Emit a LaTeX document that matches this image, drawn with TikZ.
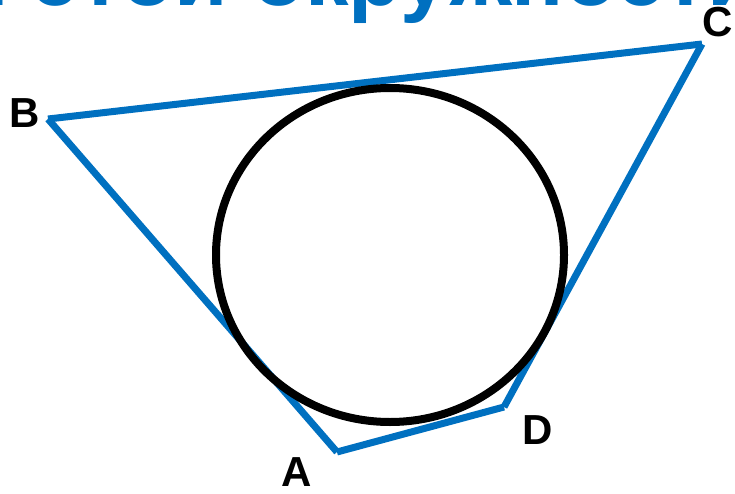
\documentclass[tikz,border=0pt]{standalone}
\usepackage{fontspec}
\setmainfont{Liberation Sans}
\usepackage{xcolor}
\usetikzlibrary{shapes.geometric, positioning}
\definecolor{lineblue}{HTML}{0070C0}

\begin{document}
\begin{tikzpicture}[
    x=1pt, y=-1pt,
    side/.style={draw=lineblue, line width=7pt},
    incircle/.style={draw=black, line width=8pt},
    vertex/.style={font=\fontsize{42}{42}\selectfont\bfseries, text=black, inner sep=0pt},
    heading/.style={font=\fontsize{87}{87}\selectfont\bfseries, text=lineblue, inner sep=0pt}
]
\useasboundingbox (0,0) rectangle (735,494);
\clip (0,0) rectangle (735,494);

% ── Heading (cut off at the top) ──
\node[heading, anchor=base west] (title) at (-45,6) {и этой окружности};

% ── Quadrilateral ──
\coordinate (B) at (48,119);
\coordinate (C) at (702,44);
\coordinate (D) at (504,407);
\coordinate (A) at (337,452);
\draw[side] (B) -- (C);
\draw[side] (C) -- (D);
\draw[side] (D) -- (A);
\draw[side] (A) -- (B);

% ── Inscribed circle ──
\node[incircle, ellipse, minimum width=348pt, minimum height=334pt, inner sep=0pt] (circ) at (390,255) {};

% ── Labels ──
\node[vertex] (lB) at (25,113) {B};
\node[vertex] (lC) at (718,22) {C};
\node[vertex] (lD) at (538,430) {D};
\node[vertex] (lA) at (297,472) {A};

\end{tikzpicture}
\end{document}
